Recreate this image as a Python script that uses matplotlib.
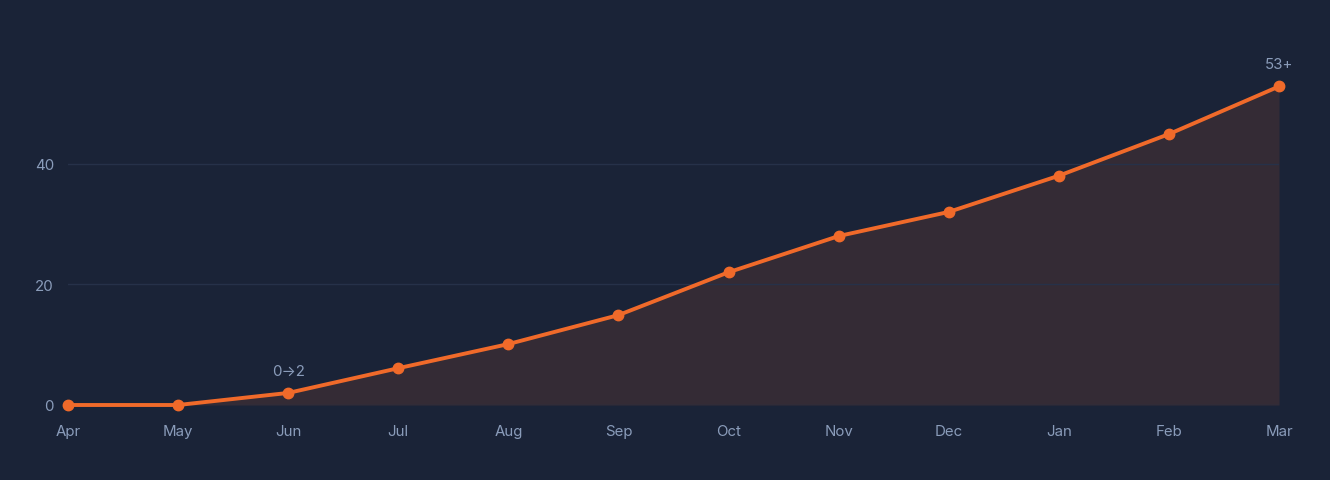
import numpy as np
import matplotlib.pyplot as plt

plt.rcParams['font.family'] = ['Inter', 'DejaVu Sans']

months = ["Apr", "May", "Jun", "Jul", "Aug", "Sep", "Oct", "Nov", "Dec", "Jan", "Feb", "Mar"]
values = [0, 0, 2, 6.1, 10.1, 14.9, 22, 28, 32, 38, 44.9, 52.8]
y_ticks = [0, 20, 40]
notes = {2: "0\u21922", 11: "53+"}

bg = "#1a2337"
orange = "#f06a2a"
text_col = "#8a9cba"

fig = plt.figure(figsize=(13.3, 4.81), dpi=100, facecolor=bg)
ax = fig.add_axes([68 / 1330, 75 / 481, (1279 - 68) / 1330, (406 - 44) / 481])
ax.set_facecolor(bg)

x = np.arange(len(months))
ax.fill_between(x, values, 0, color=orange, alpha=0.12, linewidth=0, zorder=1)
ax.plot(x, values, color=orange, linewidth=2.8, marker="o", markersize=7.5, zorder=3, clip_on=False)

for i, txt in notes.items():
    ax.annotate(txt, (x[i], values[i]), xytext=(0, 11), textcoords="offset points",
                ha="center", va="bottom", color=text_col, fontsize=10.8)

ax.set_xlim(0, len(months) - 1)
ax.set_ylim(0, 60)
ax.set_xticks(x)
ax.set_xticklabels(months)
ax.set_yticks(y_ticks)
ax.tick_params(colors=text_col, labelsize=10.8, length=0)
ax.tick_params(axis="x", pad=14)
ax.tick_params(axis="y", pad=10)
for lab in ax.get_xticklabels() + ax.get_yticklabels():
    lab.set_color(text_col)
ax.grid(axis="y", color="#263149", linewidth=1, zorder=0)
for s in ax.spines.values():
    s.set_visible(False)

fig.savefig("out.png", dpi=100, facecolor=bg)
